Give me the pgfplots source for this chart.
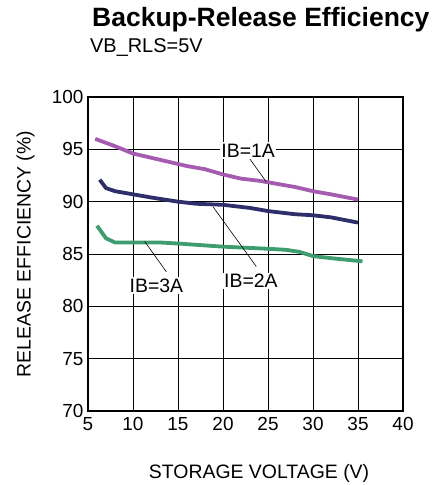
\documentclass[border=0pt]{standalone}
\usepackage{pgfplots}
\pgfplotsset{compat=1.18}
\usepackage{fontspec}
\setmainfont{Liberation Sans}

\definecolor{ibone}{HTML}{A45BB0}
\definecolor{ibtwo}{HTML}{2E2E6A}
\definecolor{ibthree}{HTML}{3E9D6E}

\begin{document}
\begin{tikzpicture}[x=1bp,y=1bp]
\useasboundingbox (-88,-74) rectangle (350,411);
\begin{axis}[
    at={(0,0)}, anchor=south west,
    scale only axis,
    width=315bp, height=314bp,
    xmin=5, xmax=40, ymin=70, ymax=100,
    xtick={5,10,...,40}, ytick={70,75,...,100},
    grid=major,
    grid style={black, line width=0.9bp},
    axis line style={black, line width=1.8bp},
    major tick length=0pt,
    tick label style={font=\fontsize{19}{20}\selectfont},
    /pgf/number format/assume math mode=true,
    xticklabel style={yshift=-3bp},
    yticklabel style={xshift=-1bp},
    label style={font=\fontsize{19.5}{22}\selectfont},
    xlabel={STORAGE VOLTAGE (V)},
    ylabel={RELEASE EFFICIENCY (\%)},
    xlabel style={at={(axis description cs:0.543,-0.216)}, anchor=base},
    ylabel style={at={(axis description cs:-0.182,0.5)}, anchor=base},
    clip=false,
]
% IB = 1A
\addplot[ibone, line width=3.8bp] coordinates {
    (5.8,96.0) (8,95.3) (10,94.6) (12,94.2) (14,93.8) (16,93.4) (18,93.1)
    (20,92.6) (22,92.2) (24,92.0) (26,91.7) (28,91.4) (30,91.0) (32,90.7) (35,90.2)
};
% IB = 2A
\addplot[ibtwo, line width=3.8bp] coordinates {
    (6.3,92.1) (7,91.3) (8,91.0) (10,90.7) (12,90.4) (15,90.0) (17,89.8)
    (20,89.7) (23,89.4) (25,89.1) (28,88.8) (30,88.7) (32,88.5) (35,88.0)
};
% IB = 3A
\addplot[ibthree, line width=3.8bp] coordinates {
    (6.0,87.7) (7,86.5) (8,86.1) (10,86.1) (13,86.1) (15,86.0) (20,85.7)
    (25,85.5) (27,85.4) (28.5,85.2) (30,84.8) (32,84.6) (35.5,84.3)
};
% callouts
\draw[black, line width=0.6bp] (axis cs:22.8,94.3) -- (axis cs:24.8,91.9);
\draw[black, line width=0.6bp] (axis cs:18.9,89.5) -- (axis cs:23.7,83.8);
\draw[black, line width=0.6bp] (axis cs:11.3,86.2) -- (axis cs:13.7,83.3);
\node[fill=white, inner sep=1.5bp, font=\fontsize{19.5}{22}\selectfont] at (axis cs:22.8,94.9) {IB=1A};
\node[fill=white, inner sep=1.5bp, font=\fontsize{19.5}{22}\selectfont] at (axis cs:23.1,82.4) {IB=2A};
\node[fill=white, inner sep=1.5bp, font=\fontsize{19.5}{22}\selectfont] at (axis cs:12.6,82.0) {IB=3A};
\end{axis}
\node[anchor=base west, font=\bfseries\fontsize{26.6}{28}\selectfont, inner sep=0pt] at (4,384) {Backup-Release Efficiency};
\node[anchor=base west, font=\fontsize{20}{21}\selectfont, inner sep=0pt] at (2,358) {VB\_RLS=5V};
\end{tikzpicture}
\end{document}
